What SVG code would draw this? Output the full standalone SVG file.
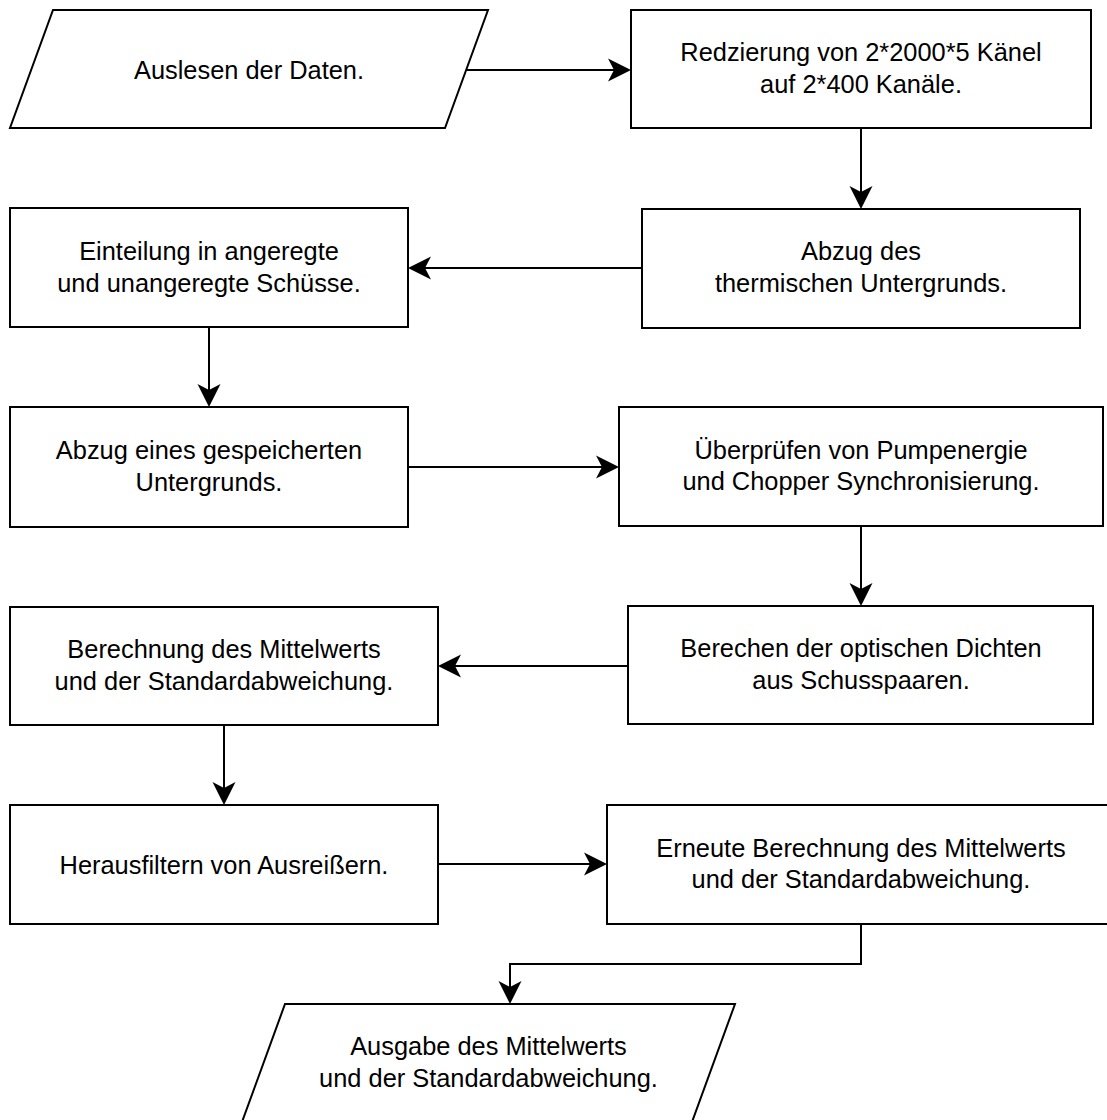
<svg xmlns="http://www.w3.org/2000/svg" width="1107" height="1120" viewBox="0 0 1107 1120">
<style>
.s{fill:#fff;stroke:#000;stroke-width:2}
.t{font-family:"Liberation Sans",Arial,Helvetica,sans-serif;font-size:25.4px;fill:#000;text-anchor:middle}
.c{fill:none;stroke:#000;stroke-width:2}
</style>
<defs>
<marker id="ah" markerWidth="26" markerHeight="26" viewBox="0 0 26 26" refX="16" refY="13" orient="auto" markerUnits="userSpaceOnUse">
<path d="M24,13 L1,1.5 L7,13 L1,24.5 Z" fill="#000"/>
</marker>
</defs>
<rect width="1107" height="1120" fill="#fff"/>
<g id="connectors">
<path class="c" d="M467,70 H623" marker-end="url(#ah)"/>
<path class="c" d="M861,128 V201" marker-end="url(#ah)"/>
<path class="c" d="M642,268 H416" marker-end="url(#ah)"/>
<path class="c" d="M209,327 V399" marker-end="url(#ah)"/>
<path class="c" d="M408,467 H611" marker-end="url(#ah)"/>
<path class="c" d="M861,526 V598" marker-end="url(#ah)"/>
<path class="c" d="M628,666 H446" marker-end="url(#ah)"/>
<path class="c" d="M224,725 V797" marker-end="url(#ah)"/>
<path class="c" d="M438,864 H599" marker-end="url(#ah)"/>
<path class="c" d="M861,924 V964 H510 V996" marker-end="url(#ah)"/>
</g>
<g id="n1">
<polygon class="s" points="53,10 488,10 445,128 10,128"/>
<text class="t" x="249" y="79">Auslesen der Daten.</text>
</g>
<g id="n2">
<rect class="s" x="631" y="10" width="460" height="118"/>
<text class="t" x="861" y="61">Redzierung von 2*2000*5 Känel</text>
<text class="t" x="861" y="92.5">auf 2*400 Kanäle.</text>
</g>
<g id="n3">
<rect class="s" x="642" y="209" width="438" height="119"/>
<text class="t" x="861" y="260">Abzug des</text>
<text class="t" x="861" y="292">thermischen Untergrunds.</text>
</g>
<g id="n4">
<rect class="s" x="10" y="208" width="398" height="119"/>
<text class="t" x="209" y="260">Einteilung in angeregte</text>
<text class="t" x="209" y="291.5">und unangeregte Schüsse.</text>
</g>
<g id="n5">
<rect class="s" x="10" y="407" width="398" height="120"/>
<text class="t" x="209" y="459">Abzug eines gespeicherten</text>
<text class="t" x="209" y="490.5">Untergrunds.</text>
</g>
<g id="n6">
<rect class="s" x="619" y="407" width="484" height="119"/>
<text class="t" x="861" y="458.5">Überprüfen von Pumpenergie</text>
<text class="t" x="861" y="490">und Chopper Synchronisierung.</text>
</g>
<g id="n7">
<rect class="s" x="628" y="606" width="465" height="118"/>
<text class="t" x="861" y="657">Berechen der optischen Dichten</text>
<text class="t" x="861" y="688.5">aus Schusspaaren.</text>
</g>
<g id="n8">
<rect class="s" x="10" y="607" width="428" height="118"/>
<text class="t" x="224" y="658">Berechnung des Mittelwerts</text>
<text class="t" x="224" y="689.5">und der Standardabweichung.</text>
</g>
<g id="n9">
<rect class="s" x="10" y="805" width="428" height="119"/>
<text class="t" x="224" y="873.5">Herausfiltern von Ausreißern.</text>
</g>
<g id="n10">
<rect class="s" x="607" y="805" width="508" height="119"/>
<text class="t" x="861" y="856.5">Erneute Berechnung des Mittelwerts</text>
<text class="t" x="861" y="888">und der Standardabweichung.</text>
</g>
<g id="n11">
<polygon class="s" points="285,1004 735,1004 692,1122 242,1122"/>
<text class="t" x="488.5" y="1055">Ausgabe des Mittelwerts</text>
<text class="t" x="488.5" y="1086.5">und der Standardabweichung.</text>
</g>
</svg>
